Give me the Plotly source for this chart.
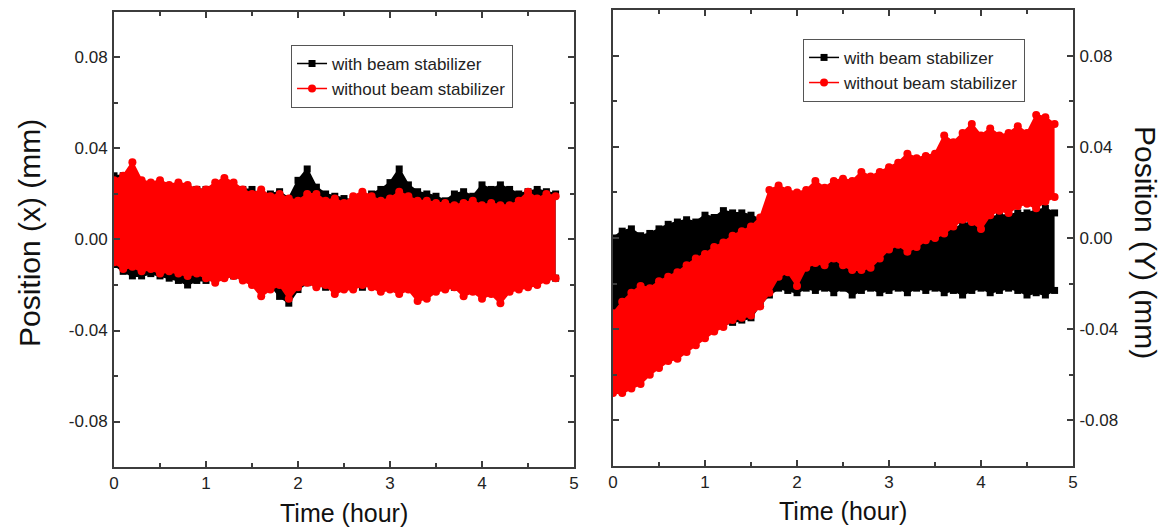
import plotly.graph_objects as go

# ---- data ----
time_h = [0.0, 0.1, 0.2, 0.3, 0.4, 0.5, 0.6, 0.7, 0.8, 0.9,
          1.0, 1.1, 1.2, 1.3, 1.4, 1.5, 1.6, 1.7, 1.8, 1.9,
          2.0, 2.1, 2.2, 2.3, 2.4, 2.5, 2.6, 2.7, 2.8, 2.9,
          3.0, 3.1, 3.2, 3.3, 3.4, 3.5, 3.6, 3.7, 3.8, 3.9,
          4.0, 4.1, 4.2, 4.3, 4.4, 4.5, 4.6, 4.7, 4.8]

# Left panel: Position (x)
x_with_upper = [0.028, 0.028, 0.025, 0.025, 0.024, 0.024, 0.023, 0.023, 0.023, 0.022,
                0.022, 0.021, 0.021, 0.020, 0.022, 0.022, 0.019, 0.020, 0.021, 0.018,
                0.026, 0.031, 0.023, 0.020, 0.019, 0.018, 0.017, 0.019, 0.020, 0.022,
                0.025, 0.031, 0.024, 0.021, 0.020, 0.019, 0.017, 0.020, 0.021, 0.019,
                0.024, 0.022, 0.024, 0.022, 0.020, 0.021, 0.022, 0.021, 0.020]
x_with_lower = [-0.011, -0.014, -0.016, -0.016, -0.015, -0.016, -0.017, -0.018, -0.020, -0.018,
                -0.018, -0.017, -0.016, -0.016, -0.016, -0.018, -0.020, -0.020, -0.025, -0.028,
                -0.022, -0.019, -0.020, -0.021, -0.020, -0.021, -0.020, -0.021, -0.020, -0.021,
                -0.020, -0.021, -0.020, -0.021, -0.020, -0.021, -0.020, -0.021, -0.020, -0.021,
                -0.020, -0.021, -0.020, -0.020, -0.019, -0.019, -0.018, -0.017, -0.017]
x_without_upper = [0.026, 0.028, 0.034, 0.026, 0.025, 0.026, 0.024, 0.025, 0.024, 0.022,
                   0.022, 0.025, 0.027, 0.025, 0.022, 0.020, 0.022, 0.019, 0.020, 0.018,
                   0.017, 0.020, 0.020, 0.017, 0.018, 0.016, 0.019, 0.021, 0.019, 0.017,
                   0.018, 0.021, 0.019, 0.017, 0.017, 0.016, 0.016, 0.015, 0.016, 0.017,
                   0.015, 0.016, 0.015, 0.015, 0.017, 0.021, 0.018, 0.020, 0.019]
x_without_lower = [-0.010, -0.013, -0.012, -0.014, -0.013, -0.015, -0.014, -0.015, -0.016, -0.015,
                   -0.017, -0.019, -0.017, -0.016, -0.018, -0.020, -0.025, -0.022, -0.020, -0.026,
                   -0.021, -0.019, -0.021, -0.020, -0.024, -0.022, -0.022, -0.020, -0.021, -0.023,
                   -0.022, -0.024, -0.022, -0.027, -0.026, -0.023, -0.022, -0.021, -0.025, -0.023,
                   -0.026, -0.024, -0.028, -0.023, -0.022, -0.021, -0.020, -0.018, -0.017]

# Right panel: Position (Y)
y_with_upper = [0.000, 0.003, 0.004, 0.001, 0.002, 0.004, 0.006, 0.007, 0.008, 0.007,
                0.010, 0.009, 0.012, 0.011, 0.011, 0.010, 0.008, 0.006, 0.000, 0.000,
                0.000, 0.000, 0.000, 0.000, 0.000, 0.000, 0.000, 0.000, 0.000, 0.000,
                -0.002, -0.002, -0.002, -0.002, -0.001, -0.001, 0.003, 0.004, 0.006, 0.007,
                0.008, 0.009, 0.010, 0.010, 0.011, 0.011, 0.012, 0.013, 0.011]
y_with_lower = [-0.033, -0.035, -0.036, -0.036, -0.036, -0.036, -0.036, -0.036, -0.036, -0.037,
                -0.037, -0.038, -0.038, -0.037, -0.036, -0.035, -0.029, -0.025, -0.022, -0.023,
                -0.024, -0.022, -0.023, -0.022, -0.024, -0.022, -0.025, -0.023, -0.022, -0.024,
                -0.023, -0.022, -0.024, -0.022, -0.023, -0.022, -0.024, -0.023, -0.025, -0.023,
                -0.022, -0.024, -0.023, -0.022, -0.023, -0.025, -0.024, -0.025, -0.023]
y_without_upper = [-0.033, -0.028, -0.024, -0.021, -0.022, -0.019, -0.017, -0.015, -0.012, -0.009,
                   -0.007, -0.004, -0.002, 0.001, 0.003, 0.005, 0.009, 0.021, 0.023, 0.021,
                   0.020, 0.021, 0.025, 0.022, 0.025, 0.026, 0.025, 0.029, 0.027, 0.029,
                   0.031, 0.033, 0.037, 0.035, 0.036, 0.037, 0.045, 0.042, 0.046, 0.050,
                   0.045, 0.048, 0.045, 0.046, 0.049, 0.046, 0.054, 0.053, 0.050]
y_without_lower = [-0.068, -0.068, -0.066, -0.064, -0.060, -0.057, -0.054, -0.053, -0.050, -0.047,
                   -0.044, -0.041, -0.039, -0.036, -0.035, -0.034, -0.030, -0.024, -0.017, -0.015,
                   -0.021, -0.013, -0.011, -0.012, -0.009, -0.012, -0.014, -0.014, -0.013, -0.009,
                   -0.005, -0.003, -0.006, -0.004, -0.001, 0.000, 0.002, 0.005, 0.008, 0.007,
                   0.004, 0.010, 0.012, 0.011, 0.014, 0.015, 0.013, 0.016, 0.018]

series_names = ["with beam stabilizer", "without beam stabilizer"]
x_ticks = [0, 1, 2, 3, 4, 5]
y_ticks = [-0.08, -0.04, 0.00, 0.04, 0.08]
y_tick_text = ["-0.08", "-0.04", "0.00", "0.04", "0.08"]

BLACK = "#000000"
RED = "#ff0000"
FONT = "Liberation Sans, Arial, sans-serif"
AXC = "#3c3c3c"

fig = go.Figure()


def band(xa, ya, lower, upper, color, symbol, size):
    fig.add_trace(go.Scatter(
        x=time_h, y=lower, xaxis=xa, yaxis=ya, mode="lines+markers",
        line=dict(color=color, width=2), marker=dict(color=color, symbol=symbol, size=size),
        showlegend=False, hoverinfo="skip"))
    fig.add_trace(go.Scatter(
        x=time_h, y=upper, xaxis=xa, yaxis=ya, mode="lines+markers",
        line=dict(color=color, width=2), marker=dict(color=color, symbol=symbol, size=size),
        fill="tonexty", fillcolor=color, showlegend=False, hoverinfo="skip"))


# left panel
band("x", "y", x_with_lower, x_with_upper, BLACK, "square", 7)
band("x", "y", x_without_lower, x_without_upper, RED, "circle", 8)
# right panel
band("x2", "y2", y_with_lower, y_with_upper, BLACK, "square", 7)
band("x2", "y2", y_without_lower, y_without_upper, RED, "circle", 8)

# legend entries
for leg, xa, ya in (("legend", "x", "y"), ("legend2", "x2", "y2")):
    fig.add_trace(go.Scatter(x=[None], y=[None], xaxis=xa, yaxis=ya, mode="lines+markers",
                             name=series_names[0], legend=leg,
                             line=dict(color=BLACK, width=1.5),
                             marker=dict(color=BLACK, symbol="square", size=7)))
    fig.add_trace(go.Scatter(x=[None], y=[None], xaxis=xa, yaxis=ya, mode="lines+markers",
                             name=series_names[1], legend=leg,
                             line=dict(color=RED, width=1.5),
                             marker=dict(color=RED, symbol="circle", size=8)))

xax = dict(range=[0, 5], tickvals=x_ticks, ticks="inside", ticklen=6, tickwidth=1.5,
           tickcolor=AXC, showline=True, linecolor=AXC, linewidth=2, mirror="ticks",
           showgrid=False, zeroline=False, ticklabelstandoff=0,
           tickfont=dict(family=FONT, size=17, color="#222222"),
           minor=dict(ticks="inside", ticklen=4, tickwidth=1.5, tickcolor=AXC, dtick=0.5, tick0=0))
yax = dict(range=[-0.1, 0.1], tickvals=y_ticks, ticktext=y_tick_text, ticks="inside", ticklen=6,
           tickwidth=1.5, tickcolor=AXC, showline=True, linecolor=AXC, linewidth=2, mirror="ticks",
           showgrid=False, zeroline=False, ticklabelstandoff=1,
           tickfont=dict(family=FONT, size=17, color="#222222"),
           minor=dict(ticks="inside", ticklen=4, tickwidth=1.5, tickcolor=AXC, dtick=0.02, tick0=0))

legend_style = dict(xanchor="left", yanchor="top", bordercolor="#555555", borderwidth=1,
                    bgcolor="white", traceorder="normal",
                    font=dict(family=FONT, size=17, color="#222222"),
                    tracegroupgap=0, itemwidth=30)

fig.update_layout(
    width=1173, height=530,
    margin=dict(l=114, r=100, t=8, b=63),
    paper_bgcolor="white", plot_bgcolor="white",
    font=dict(family=FONT, color="#222222"),
    xaxis=dict(domain=[0, 0.47967], anchor="y", **xax),
    yaxis=dict(domain=[0, 0.99564], anchor="x", side="left", **yax),
    xaxis2=dict(domain=[0.52033, 1], anchor="y2", **xax),
    yaxis2=dict(domain=[0.00218, 1], anchor="x2", side="right", **yax),
    legend=dict(x=0.1846, y=0.9237, **legend_style),
    legend2=dict(x=0.7185, y=0.9368, **legend_style),
    annotations=[
        dict(text="Position (x) (mm)", xref="paper", yref="paper", x=-0.0886, y=0.512,
             textangle=-90, showarrow=False, xanchor="center", yanchor="middle",
             font=dict(family=FONT, size=30, color="#111111")),
        dict(text="Position (Y) (mm)", xref="paper", yref="paper", x=1.0751, y=0.4924,
             textangle=90, showarrow=False, xanchor="center", yanchor="middle",
             font=dict(family=FONT, size=30, color="#111111")),
        dict(text="Time (hour)", xref="paper", yref="paper", x=0.2398, y=-0.1,
             showarrow=False, xanchor="center", yanchor="middle",
             font=dict(family=FONT, size=25, color="#111111")),
        dict(text="Time (hour)", xref="paper", yref="paper", x=0.7602, y=-0.096,
             showarrow=False, xanchor="center", yanchor="middle",
             font=dict(family=FONT, size=25, color="#111111")),
    ],
)

fig.write_html("out.html")
